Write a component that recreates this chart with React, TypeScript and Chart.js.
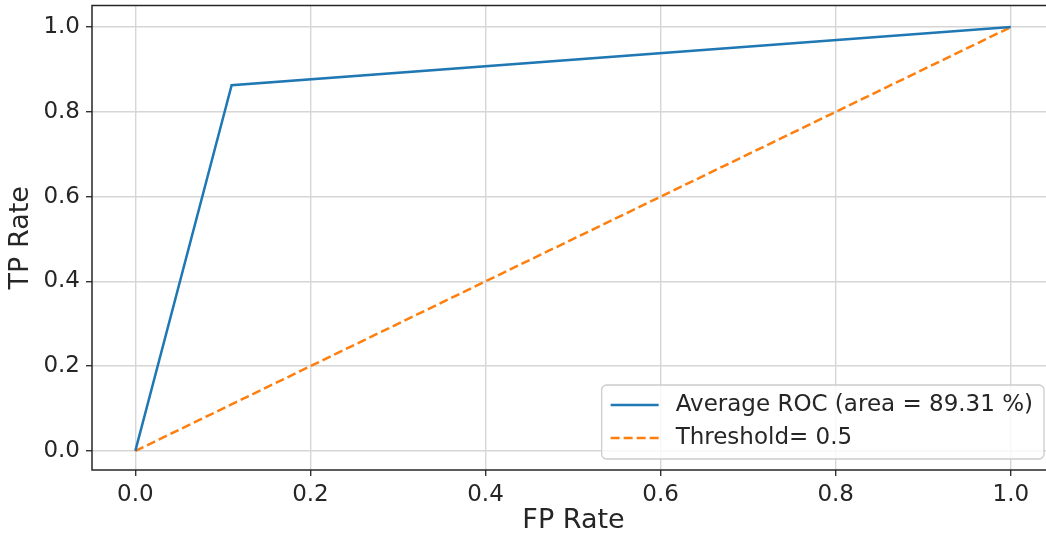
import React, { useEffect, useRef } from "react";
import { Chart, registerables } from "chart.js";

Chart.register(...registerables);

// ---- data ----
const rocFpr = [0, 0.11, 1.0];
const rocTpr = [0, 0.863, 1.0];
const thrFpr = [0, 1.0];
const thrTpr = [0, 1.0];
const xTicks = [0, 0.2, 0.4, 0.6, 0.8, 1.0];
const yTicks = [0, 0.2, 0.4, 0.6, 0.8, 1.0];
const seriesLabels = ["Average ROC (area = 89.31 %)", "Threshold= 0.5"];
const axisTitles = { x: "FP Rate", y: "TP Rate" };

const BLUE = "#1f77b4";
const ORANGE = "#ff7f0e";
const FONT = "'DejaVu Sans', sans-serif";
const TEXT = "#262626";
const GRID = "#d6d6d6";
const CANVAS_W = 1070;
const CANVAS_H = 536;

const framePlugin = {
  id: "frameAndLegend",
  afterDatasetsDraw(chart: any) {
    const { ctx, chartArea } = chart;
    ctx.save();
    ctx.strokeStyle = "#262626";
    ctx.lineWidth = 1.5;
    ctx.strokeRect(chartArea.left, chartArea.top, chartArea.right - chartArea.left, chartArea.bottom - chartArea.top);
    ctx.restore();
  },
  afterDraw(chart: any) {
    const { ctx, chartArea } = chart;
    ctx.save();
    ctx.font = `23px ${FONT}`;
    const tw = Math.max(...seriesLabels.map((s) => ctx.measureText(s).width));
    const boxRight = chartArea.right - 11;
    const boxBottom = chartArea.bottom - 11;
    const w = 9 + 48 + 17 + tw + 11;
    const h = 74;
    const x0 = boxRight - w;
    const y0 = boxBottom - h;
    ctx.beginPath();
    (ctx as any).roundRect(x0, y0, w, h, 5);
    ctx.fillStyle = "rgba(255,255,255,0.8)";
    ctx.fill();
    ctx.strokeStyle = "#cccccc";
    ctx.lineWidth = 1.3;
    ctx.stroke();
    const rows = [y0 + 20, y0 + 53];
    const colors = [BLUE, ORANGE];
    const dashes = [[], [9, 4]];
    rows.forEach((ry, i) => {
      ctx.beginPath();
      ctx.setLineDash(dashes[i]);
      ctx.strokeStyle = colors[i];
      ctx.lineWidth = 2.5;
      ctx.moveTo(x0 + 9, ry);
      ctx.lineTo(x0 + 57, ry);
      ctx.stroke();
      ctx.setLineDash([]);
      ctx.fillStyle = TEXT;
      ctx.textBaseline = "middle";
      ctx.textAlign = "left";
      ctx.fillText(seriesLabels[i], x0 + 74, ry);
    });
    ctx.restore();
  },
};

export default function App() {
  const ref = useRef<HTMLCanvasElement>(null);
  useEffect(() => {
    if (!ref.current) return;
    const chart = new Chart(ref.current, {
      type: "scatter",
      data: {
        datasets: [
          {
            label: seriesLabels[0],
            data: rocFpr.map((x, i) => ({ x, y: rocTpr[i] })),
            showLine: true,
            borderColor: BLUE,
            backgroundColor: BLUE,
            borderWidth: 2.5,
            pointRadius: 0,
            fill: false,
            tension: 0,
          },
          {
            label: seriesLabels[1],
            data: thrFpr.map((x, i) => ({ x, y: thrTpr[i] })),
            showLine: true,
            borderColor: ORANGE,
            backgroundColor: ORANGE,
            borderWidth: 2.5,
            borderDash: [9, 4],
            pointRadius: 0,
            fill: false,
            tension: 0,
          },
        ],
      },
      options: {
        responsive: false,
        animation: false,
        events: [],
        layout: { padding: { top: 5.5, right: CANVAS_W - 1055, left: 0, bottom: 0 } },
        plugins: { legend: { display: false }, tooltip: { enabled: false } },
        scales: {
          x: {
            type: "linear",
            min: -0.0495,
            max: 1.0505,
            afterBuildTicks: (s: any) => {
              s.ticks = xTicks.map((v) => ({ value: v }));
            },
            afterFit: (s: any) => {
              s.height = 66;
              s.paddingLeft = 0;
              s.paddingRight = 0;
            },
            grid: { color: GRID, lineWidth: 1.4, tickColor: "#333333", tickLength: 6, drawTicks: true },
            border: { display: false },
            ticks: {
              color: TEXT,
              font: { family: FONT, size: 23 },
              padding: 5,
              maxRotation: 0,
              callback: (v: any) => Number(v).toFixed(1),
            },
            title: {
              display: true,
              text: axisTitles.x,
              color: TEXT,
              font: { family: FONT, size: 27, lineHeight: 1 },
              padding: { top: 0, bottom: 2 },
            },
          },
          y: {
            type: "linear",
            min: -0.045,
            max: 1.051,
            afterBuildTicks: (s: any) => {
              s.ticks = yTicks.map((v) => ({ value: v }));
            },
            afterFit: (s: any) => {
              s.width = 92;
              s.paddingTop = 0;
              s.paddingBottom = 0;
            },
            grid: { color: GRID, lineWidth: 1.4, tickColor: "#333333", tickLength: 6, drawTicks: true },
            border: { display: false },
            ticks: {
              color: TEXT,
              font: { family: FONT, size: 23 },
              padding: 6,
              callback: (v: any) => Number(v).toFixed(1),
            },
            title: {
              display: true,
              text: axisTitles.y,
              color: TEXT,
              font: { family: FONT, size: 27, lineHeight: 1 },
              padding: { top: 7, bottom: 0 },
            },
          },
        },
      },
      plugins: [framePlugin],
    } as any);
    return () => chart.destroy();
  }, []);

  return (
    <div
      style={{
        position: "fixed",
        left: 0,
        top: 0,
        width: 1046,
        height: 536,
        overflow: "hidden",
        background: "#ffffff",
      }}
    >
      <canvas
        ref={ref}
        width={CANVAS_W}
        height={CANVAS_H}
        style={{ display: "block", width: CANVAS_W, height: CANVAS_H }}
      />
    </div>
  );
}
